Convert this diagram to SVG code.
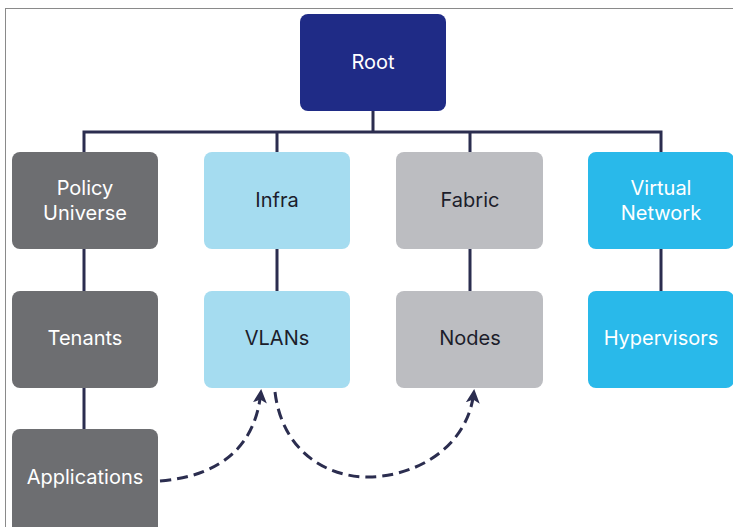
<svg xmlns="http://www.w3.org/2000/svg" width="733" height="527" viewBox="0 0 733 527">
<defs>
<style>
.box{stroke:none}
.t{font-family:Inter,"Liberation Sans",Arial,sans-serif;font-size:20px;text-anchor:middle}
.w{fill:#ffffff}
.d{fill:#1c1d2b}
.c{fill:none;stroke:#2b2d4f;stroke-width:3}
.dash{fill:none;stroke:#2b2d4f;stroke-width:3;stroke-dasharray:11 6}
</style>
<marker id="ah" viewBox="0 0 14 14" refX="12" refY="7" markerWidth="14" markerHeight="14" markerUnits="userSpaceOnUse" orient="auto">
<path d="M0,0 L14,7 L0,14 L3.5,7 Z" fill="#2b2d4f"/>
</marker>
</defs>
<rect x="0" y="0" width="733" height="527" fill="#ffffff"/>
<rect x="5.5" y="8.5" width="740" height="530" fill="none" stroke="#8a8a8a" stroke-width="1"/>
<g id="connectors">
<path class="c" d="M373,111 V132 M84,152 V132 H661 V152 M277,132 V152 M470,132 V152"/>
<path class="c" d="M84,249 V291 M84,388 V429 M277,249 V291 M470,249 V291 M661,249 V291"/>
<path class="dash" d="M160,481 C222,476 256,445 261,391" marker-end="url(#ah)"/>
<path class="dash" d="M275,392 C282,450 325,477 368,477 C412,477 468,450 474,391" marker-end="url(#ah)"/>
</g>
<g id="root"><rect class="box" x="300" y="14" width="146" height="97" rx="8" fill="#1f2b86"/><text class="t w" x="373" y="69">Root</text></g>
<g id="policy-universe"><rect class="box" x="12" y="152" width="146" height="97" rx="8" fill="#6d6e71"/><text class="t w" x="85" y="195">Policy</text><text class="t w" x="85" y="220">Universe</text></g>
<g id="infra"><rect class="box" x="204" y="152" width="146" height="97" rx="8" fill="#a5dcf0"/><text class="t d" x="277" y="207">Infra</text></g>
<g id="fabric"><rect class="box" x="396" y="152" width="147" height="97" rx="8" fill="#bcbdc1"/><text class="t d" x="470" y="207">Fabric</text></g>
<g id="virtual-network"><rect class="box" x="588" y="152" width="146" height="97" rx="8" fill="#29b9ea"/><text class="t w" x="661" y="195">Virtual</text><text class="t w" x="661" y="220">Network</text></g>
<g id="tenants"><rect class="box" x="12" y="291" width="146" height="97" rx="8" fill="#6d6e71"/><text class="t w" x="85" y="345">Tenants</text></g>
<g id="vlans"><rect class="box" x="204" y="291" width="146" height="97" rx="8" fill="#a5dcf0"/><text class="t d" x="277" y="345">VLANs</text></g>
<g id="nodes"><rect class="box" x="396" y="291" width="147" height="97" rx="8" fill="#bcbdc1"/><text class="t d" x="470" y="345">Nodes</text></g>
<g id="hypervisors"><rect class="box" x="588" y="291" width="146" height="97" rx="8" fill="#29b9ea"/><text class="t w" x="661" y="345">Hypervisors</text></g>
<g id="applications"><rect class="box" x="12" y="429" width="146" height="110" rx="8" fill="#6d6e71"/><text class="t w" x="85" y="484">Applications</text></g>
</svg>
